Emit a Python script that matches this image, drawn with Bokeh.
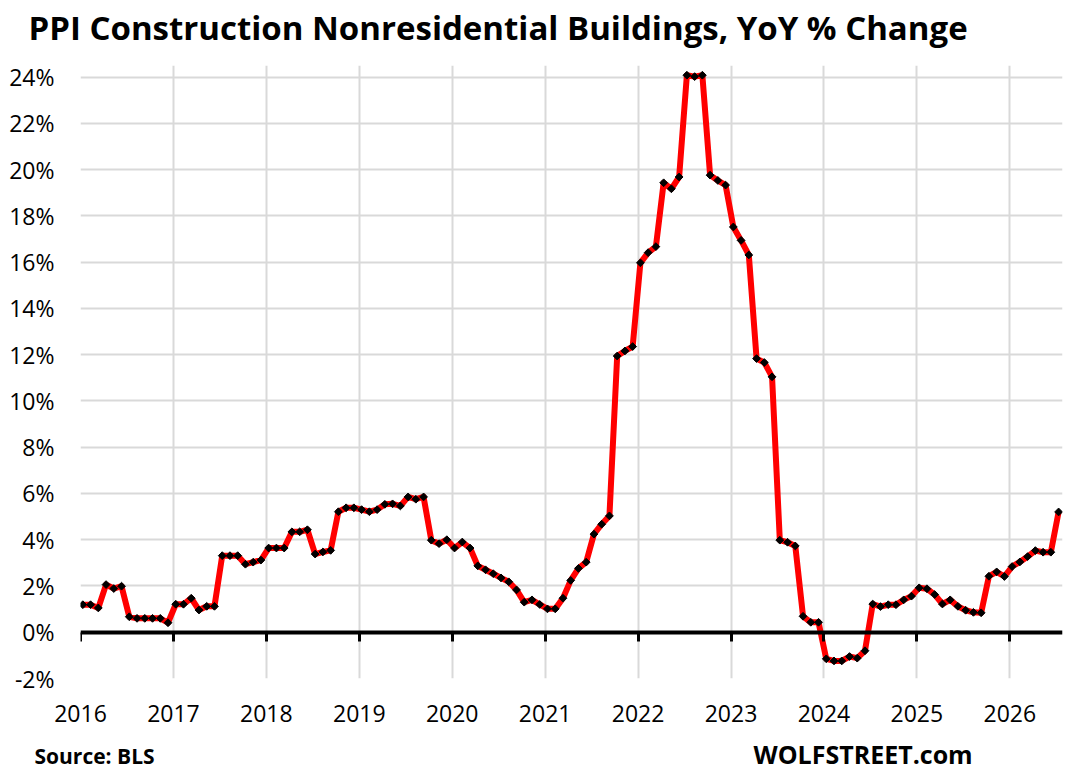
import numpy as np
from bokeh.plotting import figure
from bokeh.layouts import column
from bokeh.models import LinearAxis, FixedTicker, Grid, Range1d, ColumnDataSource, Label
from bokeh.embed import file_html
from bokeh.resources import INLINE

title_text = "PPI Construction Nonresidential Buildings, YoY % Change"
source_text = "Source: BLS"
brand_text = "WOLFSTREET.com"

# Monthly YoY % change
yoy_2016 = [1.19, 1.19, 1.05, 2.06, 1.89, 1.99, 0.67, 0.60, 0.60, 0.60, 0.60, 0.41]
yoy_2017 = [1.21, 1.21, 1.47, 0.96, 1.12, 1.12, 3.31, 3.31, 3.31, 2.94, 3.03, 3.12]
yoy_2018 = [3.64, 3.64, 3.64, 4.34, 4.34, 4.43, 3.38, 3.47, 3.54, 5.21, 5.38, 5.38]
yoy_2019 = [5.30, 5.21, 5.30, 5.53, 5.55, 5.46, 5.85, 5.75, 5.85, 3.98, 3.83, 4.00]
yoy_2020 = [3.64, 3.90, 3.64, 2.87, 2.70, 2.53, 2.35, 2.18, 1.83, 1.30, 1.40, 1.20]
yoy_2021 = [1.01, 1.01, 1.47, 2.24, 2.76, 3.03, 4.24, 4.67, 5.03, 11.94, 12.16, 12.35]
yoy_2022 = [15.97, 16.41, 16.67, 19.43, 19.17, 19.68, 24.08, 24.02, 24.08, 19.76, 19.53, 19.33]
yoy_2023 = [17.52, 16.94, 16.31, 11.83, 11.66, 11.04, 3.98, 3.89, 3.73, 0.69, 0.43, 0.43]
yoy_2024 = [-1.15, -1.24, -1.24, -1.05, -1.12, -0.80, 1.22, 1.11, 1.19, 1.19, 1.40, 1.56]
yoy_2025 = [1.92, 1.88, 1.63, 1.22, 1.40, 1.12, 0.95, 0.86, 0.84, 2.42, 2.61, 2.41]
yoy_2026 = [2.84, 3.04, 3.27, 3.53, 3.46, 3.46, 5.20]

yearly = {2016: yoy_2016, 2017: yoy_2017, 2018: yoy_2018, 2019: yoy_2019,
          2020: yoy_2020, 2021: yoy_2021, 2022: yoy_2022, 2023: yoy_2023,
          2024: yoy_2024, 2025: yoy_2025, 2026: yoy_2026}

x_ticks = list(range(2016, 2027))
y_ticks = list(range(-2, 26, 2))

xs, ys = [], []
for yr, vals in yearly.items():
    for m, v in enumerate(vals):
        xs.append(yr + (m + 0.3) / 12.0)
        ys.append(v)
src = ColumnDataSource(dict(x=xs, y=ys))

FONT = "Open Sans"
W = 1071
HEADER_H, MAIN_H, FOOTER_H = 50, 686, 37

p = figure(width=W, height=MAIN_H, output_backend="svg", toolbar_location=None,
           x_range=Range1d(2016, 2026.567), y_range=Range1d(-2, 24.5),
           x_axis_type=None, y_axis_type=None,
           min_border_left=80, min_border_right=9, min_border_top=15, min_border_bottom=58)
p.outline_line_color = None
p.background_fill_color = "white"
p.border_fill_color = "white"

xt = FixedTicker(ticks=x_ticks)
yt = FixedTicker(ticks=y_ticks)

p.add_layout(Grid(dimension=0, ticker=xt, grid_line_color="#d9d9d9", grid_line_width=2,
                  bounds=(y_ticks[0], y_ticks[-1])))
p.add_layout(Grid(dimension=1, ticker=yt, grid_line_color="#d9d9d9", grid_line_width=2))

yaxis = LinearAxis(ticker=yt, major_label_overrides={t: f"{t}%" for t in y_ticks})
yaxis.axis_line_color = None
yaxis.major_tick_line_color = None
yaxis.minor_tick_line_color = None
yaxis.major_tick_out = 0
yaxis.major_tick_in = 0
yaxis.major_label_standoff = 26
yaxis.major_label_text_font = FONT
yaxis.major_label_text_font_size = "23px"
yaxis.major_label_text_color = "#000000"
p.add_layout(yaxis, "left")

xaxis = LinearAxis(ticker=xt)
xaxis.axis_line_color = None
xaxis.major_tick_line_color = None
xaxis.minor_tick_line_color = None
xaxis.major_tick_out = 0
xaxis.major_tick_in = 0
xaxis.major_label_standoff = 26
xaxis.major_label_text_font = FONT
xaxis.major_label_text_font_size = "23px"
xaxis.major_label_text_color = "#000000"
p.add_layout(xaxis, "below")

zero_axis = LinearAxis(ticker=xt, fixed_location=0)
zero_axis.axis_line_color = "#000000"
zero_axis.axis_line_width = 4
zero_axis.major_tick_line_color = "#000000"
zero_axis.major_tick_line_width = 3
zero_axis.major_tick_out = 9
zero_axis.major_tick_in = 0
zero_axis.minor_tick_line_color = None
zero_axis.major_label_text_alpha = 0
zero_axis.major_label_text_font_size = "1px"
p.add_layout(zero_axis, "below")

p.line("x", "y", source=src, line_color="#ff0000", line_width=6, line_join="round")
p.scatter("x", "y", source=src, marker="square", size=5.5, angle=np.pi / 4,
          fill_color="#000000", line_color="#000000")


def text_strip(height, items):
    f = figure(width=W, height=height, output_backend="svg", toolbar_location=None,
               x_range=Range1d(0, W), y_range=Range1d(0, height),
               x_axis_type=None, y_axis_type=None, min_border=0)
    f.outline_line_color = None
    f.background_fill_color = "white"
    f.border_fill_color = "white"
    for text, x, y, size in items:
        f.add_layout(Label(x=x, y=y, x_units="screen", y_units="screen", text=text,
                           text_font=FONT, text_font_style="bold", text_font_size=size,
                           text_baseline="alphabetic", text_color="#000000"))
    return f


header = text_strip(HEADER_H, [(title_text, 28, 23.5, "33px")])
footer = text_strip(FOOTER_H, [(source_text, 34, 17.7, "21px"),
                               (brand_text, 753, 19.2, "25px")])

for f in (header, p, footer):
    if "frame_align" in f.properties():
        f.frame_align = False

layout = column(header, p, footer, spacing=0)
open("out.html", "w").write(file_html(layout, INLINE))
